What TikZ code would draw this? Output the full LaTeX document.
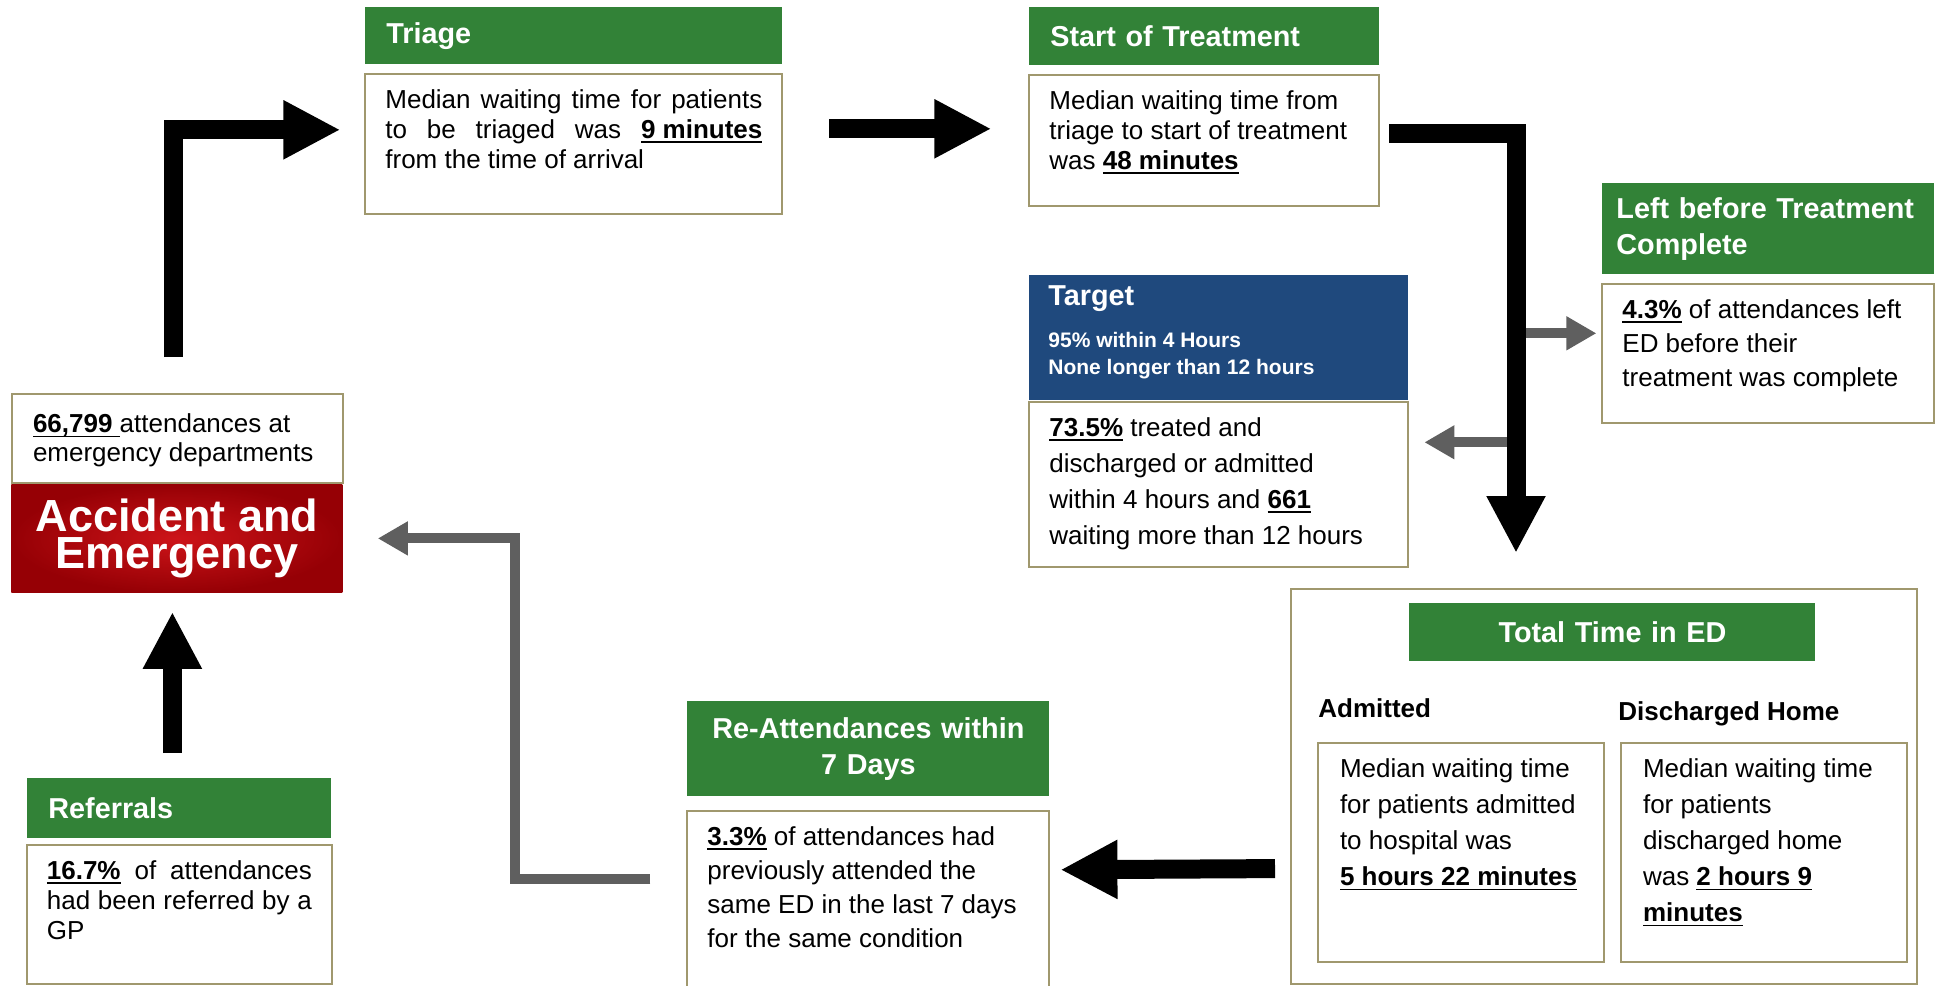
\documentclass[tikz,border=0pt]{standalone}
\usepackage{fontspec}
\setmainfont{Liberation Sans}
\usetikzlibrary{arrows.meta,positioning}

\definecolor{hdgreen}{RGB}{50,130,55}
\definecolor{hdblue}{RGB}{31,73,125}
\definecolor{boxline}{RGB}{160,152,110}
\definecolor{arrgrey}{RGB}{95,95,95}
\definecolor{aedark}{RGB}{150,0,5}
\definecolor{aelight}{RGB}{205,20,25}

\newcommand{\headfont}{\fontsize{14.4}{18}\selectfont\bfseries}
\newcommand{\bodyfont}{\fontsize{13}{15}\selectfont}
\newcommand{\ubf}[1]{\leavevmode{\bfseries\setbox0=\hbox{#1}\rlap{\rule[-2.3pt]{\wd0}{0.9pt}}\box0}}
\newcommand{\boxtext}[3]{\parbox[t][#2][t]{#1}{\raggedright #3}}
\newcommand{\fullline}[1]{\makebox[\linewidth][s]{#1}}

\begin{document}
\begin{tikzpicture}[x=0.5pt, y=-0.5pt,
    head/.style={fill=hdgreen, text=white, font=\headfont, inner xsep=10.5pt, inner ysep=0pt, anchor=north west, align=left},
    body/.style={draw=boxline, line width=1pt, fill=white, font=\bodyfont, inner xsep=10pt, inner ysep=8pt, anchor=north west},
    linegap/.style={font=\fontsize{13}{#1}\selectfont},
    bigarrow/.style={line width=9.5pt, -{Triangle[length=28.5pt, width=27.5pt]}},
    greyarrow/.style={arrgrey, line width=5pt, -{Triangle[length=15pt, width=16pt]}}]
    \useasboundingbox (0,0) rectangle (1937,985);

    \node[body, inner xsep=10.5pt, inner ysep=10pt, linegap=14.5pt] (attend) at (11,393) {\boxtext{144.5pt}{24.5pt}{\ubf{66,799 }attendances at\\emergency departments}};
    \node[anchor=north west, minimum width=165.5pt, minimum height=54pt, inner sep=0pt, inner color=aelight, outer color=aedark, text=white, align=center, font=\fontsize{22.5}{18.5}\selectfont\bfseries] (ae) at (11,484) {Accident and\\Emergency};

    \node[head, text width=131pt, minimum height=30pt] (refHead) at (27,778) {Referrals};
    \node[body, below=2.5pt of refHead] (refBody) {\boxtext{132.5pt}{53.5pt}{\fullline{\ubf{16.7\%} of attendances}\\\fullline{had been referred by a}\\GP}};

    \node[head, text width=187.5pt, minimum height=28.5pt] (triHead) at (365,7) {Triage};
    \node[body, below=4pt of triHead] (triBody) {\boxtext{188.5pt}{54pt}{\fullline{Median waiting time for patients}\\\fullline{to be triaged was \ubf{9 minutes}}\\from the time of arrival}};

    \node[head, text width=154pt, minimum height=29pt] (startHead) at (1029,7) {Start of Treatment};
    \node[body, below=4pt of startHead] (startBody) {\boxtext{155pt}{49.5pt}{Median waiting time from\\triage to start of treatment\\was \ubf{48 minutes}}};

    \node[head, fill=hdblue, inner xsep=9.5pt, inner ysep=5pt] (tgtHead) at (1029,275) {\parbox[t][52.5pt][t]{170.5pt}{\raggedright Target\\[7.5pt]\fontsize{10.5}{13.5}\selectfont 95\% within 4 Hours\\None longer than 12 hours}};
    \node[body, linegap=18pt, below=0pt of tgtHead] (tgtBody) {\boxtext{169.5pt}{66.5pt}{\ubf{73.5\%} treated and\\discharged or admitted\\within 4 hours and \ubf{661}\\waiting more than 12 hours}};

    \node[head, inner xsep=7pt, text width=152pt, minimum height=45.5pt] (leftHead) at (1602,183) {Left before Treatment\\Complete};
    \node[body, linegap=17pt, below=4pt of leftHead] (leftBody) {\boxtext{146pt}{53.5pt}{\ubf{4.3\%} of attendances left\\ED before their\\treatment was complete}};

    \node[draw=boxline, line width=1pt, minimum width=313pt, minimum height=197.5pt, anchor=north west] (totalBox) at (1290,588) {};
    \node[head, text width=182pt, minimum height=29pt, align=center] (totalHead) at (1409,603) {Total Time in ED};
    \node[anchor=base west, inner sep=0pt, font=\bodyfont\bfseries] (admLabel) at (1318,717) {Admitted};
    \node[anchor=base west, inner sep=0pt, font=\bodyfont\bfseries] (disLabel) at (1618,720) {Discharged Home};
    \node[body, inner xsep=11pt, linegap=18pt] (admBox) at (1317,742) {\boxtext{121pt}{93.5pt}{Median waiting time\\for patients admitted\\to hospital was\\\ubf{5 hours 22 minutes}}};
    \node[body, inner xsep=11pt, linegap=18pt, right=7.5pt of admBox] (disBox) {\boxtext{121pt}{93.5pt}{Median waiting time\\for patients\\discharged home\\was \ubf{2 hours 9}\\\ubf{minutes}}};

    \node[head, text width=160pt, minimum height=47.5pt, align=center] (reHead) at (687,701) {Re-Attendances within\\7 Days};
    \node[body, linegap=17pt, below=6.5pt of reHead] (reBody) {\boxtext{161pt}{77pt}{\ubf{3.3\%} of attendances had\\previously attended the\\same ED in the last 7 days\\for the same condition}};

    \coordinate (edLine) at ([xshift=-44pt]totalBox.north);
    \coordinate (leftIn) at ([yshift=10pt]leftBody.west);
    \coordinate (tgtIn) at ([xshift=7.5pt,yshift=21pt]tgtBody.east);

    \draw[greyarrow] (tgtIn -| edLine) -- (tgtIn);
    \draw[greyarrow, shorten >=2.5pt] (leftIn -| edLine) -- (leftIn);
    \draw[greyarrow, shorten <=18pt, shorten >=17.5pt] ([yshift=12.5pt]reBody.west) -| ([xshift=86pt]ae.east) -- (ae.east);

    \draw[bigarrow, shorten >=12pt] ([xshift=-2pt,yshift=18pt]attend.north) |- ([yshift=7pt]triBody.west);
    \draw[bigarrow, shorten <=23pt, shorten >=18.5pt] ([yshift=7.5pt]triBody.east) -- ([yshift=5.75pt]startBody.west);
    \draw[bigarrow, shorten <=4.5pt] ([yshift=3.25pt]startBody.east) -| ([xshift=-44pt,yshift=17.5pt]totalBox.north);
    \draw[bigarrow, shorten <=7.5pt, shorten >=5pt] ([yshift=-41pt]totalBox.west) -- ([yshift=17pt]reBody.east);
    \draw[bigarrow, shorten <=12.5pt, shorten >=9.5pt] ([xshift=-3.5pt]refHead.north) -- ([xshift=-2.25pt]ae.south);
\end{tikzpicture}
\end{document}
